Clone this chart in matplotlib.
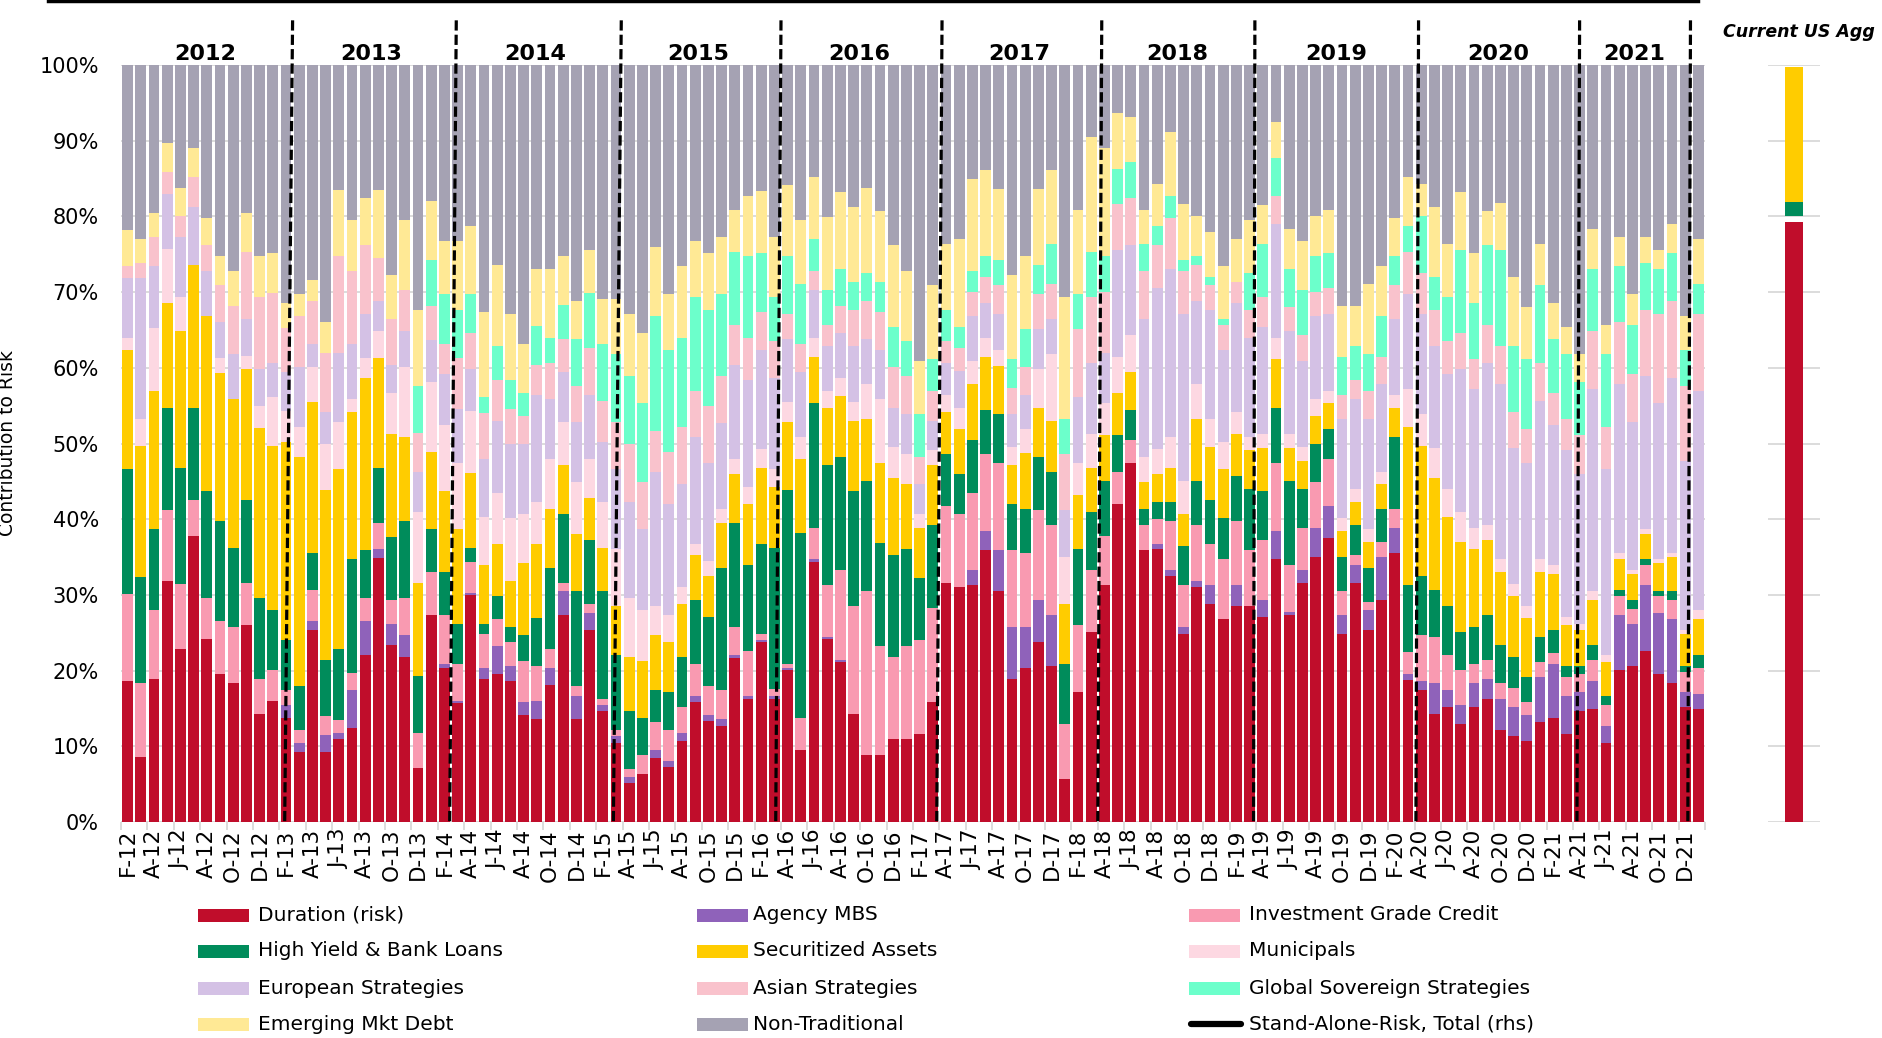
import numpy as np
import matplotlib
matplotlib.use("Agg")
import matplotlib.pyplot as plt
from matplotlib.lines import Line2D
from matplotlib.patches import Rectangle

# ---------------- data (cumulative upper boundary of each stacked series, % of risk) ----------------
duration_top = [18.6, 8.6, 18.9, 31.9, 22.9, 37.8, 24.2, 19.6, 18.4, 26.0,
                14.3, 16.0, 13.8, 9.3, 25.3, 9.3, 10.9, 12.4, 22.0, 34.9,
                23.4, 21.8, 7.1, 27.3, 20.3, 15.7, 30.0, 18.9, 19.6, 18.6,
                14.1, 13.6, 18.1, 27.3, 13.6, 25.4, 14.6, 10.4, 5.1, 6.3,
                8.4, 7.3, 10.7, 15.8, 13.3, 12.7, 21.6, 16.3, 23.8, 16.3,
                20.1, 9.5, 34.4, 24.2, 21.1, 14.3, 8.8, 8.8, 11.0, 11.0,
                11.6, 15.8, 31.6, 31.0, 31.3, 35.9, 30.5, 18.9, 20.4, 23.8,
                20.6, 5.7, 17.2, 25.1, 31.3, 42.0, 47.4, 35.9, 36.1, 32.5,
                24.9, 31.0, 28.8, 26.8, 28.5, 28.5, 27.1, 34.7, 27.4, 31.6,
                35.0, 37.5, 24.9, 31.6, 25.4, 29.3, 35.6, 18.7, 17.4, 14.3,
                15.2, 13.0, 15.2, 16.3, 12.1, 11.3, 10.7, 13.2, 13.8, 11.6,
                14.6, 14.9, 10.4, 20.1, 20.6, 22.6, 19.5, 18.3, 15.2, 14.9]
agency_top = [18.6, 8.6, 18.9, 31.9, 22.9, 37.8, 24.2, 19.6, 18.4, 26.0,
              14.3, 16.0, 15.5, 10.4, 26.5, 11.5, 11.7, 17.4, 26.5, 36.1,
              26.2, 24.7, 7.1, 27.3, 20.9, 16.0, 30.3, 20.3, 23.2, 20.6,
              15.8, 16.0, 20.3, 30.5, 16.6, 27.6, 15.5, 11.3, 5.9, 6.3,
              9.5, 8.1, 11.8, 16.6, 14.1, 13.6, 22.1, 16.6, 24.1, 16.6,
              20.3, 9.5, 34.7, 24.5, 21.4, 14.3, 8.8, 8.8, 11.0, 11.0,
              11.6, 15.8, 31.6, 31.0, 33.3, 38.4, 35.9, 25.7, 25.7, 29.3,
              27.4, 5.7, 17.2, 25.1, 31.3, 42.0, 47.4, 35.9, 36.7, 33.3,
              25.7, 31.9, 31.3, 26.8, 31.3, 28.5, 29.3, 38.4, 27.7, 33.3,
              38.9, 41.7, 27.4, 33.9, 28.0, 35.0, 38.9, 19.5, 18.6, 18.3,
              17.4, 15.5, 18.3, 18.9, 16.3, 15.2, 14.1, 19.2, 20.9, 16.6,
              17.2, 18.6, 12.7, 27.4, 26.2, 31.3, 27.6, 26.8, 17.2, 16.9]
ig_credit_top = [30.1, 18.4, 28.0, 41.2, 31.4, 42.6, 29.6, 26.5, 25.7, 31.6,
                 18.9, 20.1, 17.4, 12.2, 30.7, 14.0, 13.5, 19.7, 29.6, 39.5,
                 29.3, 29.6, 11.8, 33.0, 27.3, 20.9, 34.4, 24.9, 26.8, 23.8,
                 21.3, 20.6, 22.9, 31.6, 18.0, 28.8, 16.3, 12.2, 7.0, 8.8,
                 13.2, 12.2, 15.2, 20.9, 18.0, 17.4, 25.7, 22.6, 24.9, 17.6,
                 20.9, 13.8, 38.9, 31.3, 33.3, 28.5, 30.5, 23.2, 21.8, 23.2,
                 24.0, 28.3, 41.8, 40.7, 43.4, 48.6, 47.4, 35.9, 35.6, 41.2,
                 39.2, 13.0, 26.0, 33.3, 37.8, 46.3, 50.5, 39.2, 40.0, 39.8,
                 31.3, 39.2, 36.7, 34.7, 39.8, 35.9, 37.2, 47.4, 33.9, 38.9,
                 44.9, 48.0, 30.5, 35.3, 29.0, 37.0, 41.4, 22.4, 24.7, 24.5,
                 22.0, 20.1, 20.9, 21.4, 18.3, 17.7, 15.8, 21.2, 22.3, 19.2,
                 19.5, 21.4, 15.5, 29.9, 28.2, 33.9, 29.9, 29.3, 19.8, 20.3]
high_yield_top = [46.6, 32.4, 38.7, 54.7, 46.8, 54.7, 43.7, 39.8, 36.2, 42.6,
                  29.6, 28.0, 24.0, 18.0, 35.5, 21.4, 22.8, 34.7, 35.9, 46.8,
                  37.7, 39.8, 19.3, 38.7, 33.0, 26.2, 36.2, 26.2, 29.9, 25.7,
                  24.7, 27.0, 33.6, 40.7, 30.5, 37.2, 30.5, 22.0, 14.6, 13.8,
                  17.4, 17.2, 21.8, 29.3, 27.1, 33.6, 39.5, 33.9, 36.7, 36.2,
                  43.9, 38.2, 55.3, 47.1, 48.2, 43.7, 45.1, 36.9, 35.3, 36.1,
                  32.2, 39.2, 48.6, 46.0, 50.5, 54.4, 53.9, 42.0, 41.4, 48.2,
                  46.3, 20.9, 36.1, 40.9, 45.1, 51.1, 54.4, 41.4, 42.3, 42.3,
                  36.4, 45.1, 42.6, 40.1, 45.7, 44.0, 43.7, 54.7, 45.1, 44.0,
                  49.9, 51.9, 35.0, 39.2, 33.6, 41.4, 50.8, 31.3, 32.5, 30.7,
                  28.5, 25.1, 25.7, 27.4, 23.4, 21.8, 19.2, 24.5, 25.4, 20.6,
                  20.6, 23.4, 16.6, 30.7, 29.3, 34.7, 30.5, 30.5, 20.6, 22.0]
securitized_top = [62.4, 49.7, 57.0, 68.5, 64.8, 73.6, 66.8, 59.3, 55.9, 59.9,
                   52.0, 49.7, 50.2, 48.2, 55.5, 43.9, 46.6, 54.1, 58.6, 61.3,
                   51.3, 50.8, 31.6, 48.9, 43.7, 38.7, 46.1, 33.9, 36.7, 31.9,
                   34.2, 36.7, 41.4, 47.2, 38.0, 42.8, 36.2, 28.5, 21.8, 21.3,
                   24.7, 23.8, 28.8, 35.3, 32.5, 39.5, 46.0, 42.0, 46.8, 44.3,
                   52.8, 47.9, 61.4, 54.7, 56.3, 53.0, 53.3, 47.4, 45.5, 44.6,
                   38.9, 47.1, 54.1, 51.9, 57.8, 61.4, 60.3, 47.2, 48.8, 54.7,
                   53.0, 28.8, 43.2, 46.8, 51.1, 56.7, 59.5, 44.9, 46.0, 46.8,
                   40.7, 53.3, 49.6, 46.6, 51.3, 49.1, 49.4, 61.2, 49.4, 47.7,
                   53.6, 55.3, 38.4, 42.3, 37.0, 44.6, 54.7, 52.2, 49.7, 45.5,
                   40.3, 37.0, 36.1, 37.2, 33.0, 29.9, 27.0, 33.0, 32.8, 26.0,
                   25.4, 29.3, 21.2, 34.7, 32.8, 38.1, 34.2, 35.0, 24.9, 26.8]
municipals_top = [64.0, 53.3, 65.2, 75.7, 69.4, 73.6, 66.8, 61.3, 55.9, 61.5,
                  55.0, 56.1, 54.3, 52.2, 60.1, 49.9, 52.8, 55.9, 61.3, 64.9,
                  56.7, 60.1, 40.9, 58.1, 52.5, 47.4, 54.3, 40.3, 43.4, 40.1,
                  40.7, 42.3, 48.0, 52.8, 44.9, 48.0, 42.3, 36.1, 29.6, 28.0,
                  28.5, 27.4, 31.1, 36.7, 34.5, 41.4, 48.0, 44.3, 49.3, 46.6,
                  55.5, 50.8, 64.0, 57.0, 58.7, 55.5, 57.8, 55.9, 49.6, 48.6,
                  40.7, 49.1, 56.4, 54.7, 60.9, 64.0, 62.4, 49.6, 51.9, 59.8,
                  61.8, 35.0, 47.4, 51.3, 55.3, 61.4, 64.3, 48.2, 49.3, 50.8,
                  45.1, 57.8, 53.3, 50.2, 54.1, 50.8, 51.3, 64.0, 51.3, 49.6,
                  55.9, 57.0, 40.1, 44.0, 38.7, 46.3, 56.4, 57.2, 53.9, 49.4,
                  44.0, 40.9, 38.9, 39.2, 34.7, 31.4, 28.5, 34.7, 33.9, 27.1,
                  26.2, 30.5, 22.0, 35.6, 33.3, 38.7, 34.7, 35.6, 25.4, 28.0]
european_top = [71.9, 71.9, 73.4, 83.0, 77.3, 81.3, 72.8, 66.0, 61.8, 66.5,
                59.9, 60.7, 59.5, 60.1, 63.2, 54.1, 62.0, 63.2, 67.1, 68.8,
                60.4, 64.9, 46.3, 63.7, 59.2, 54.5, 59.9, 48.0, 53.0, 49.9,
                49.9, 56.4, 55.9, 59.5, 52.8, 56.4, 50.2, 46.6, 42.3, 38.7,
                46.3, 42.0, 44.6, 50.8, 47.4, 52.7, 60.4, 58.4, 62.4, 58.6,
                63.8, 59.5, 70.3, 62.9, 64.6, 62.9, 63.8, 62.4, 54.7, 53.9,
                44.6, 53.0, 60.6, 59.6, 66.8, 68.6, 67.1, 53.9, 56.4, 65.1,
                66.5, 41.2, 56.1, 60.6, 62.0, 75.6, 76.2, 66.5, 70.6, 73.1,
                67.1, 68.8, 67.6, 62.4, 68.5, 64.0, 65.4, 79.0, 64.9, 60.9,
                66.8, 67.1, 53.3, 55.9, 53.3, 57.8, 66.5, 69.7, 67.1, 62.9,
                59.2, 59.8, 57.2, 60.6, 57.8, 49.4, 47.4, 55.6, 52.5, 49.1,
                46.0, 57.2, 46.6, 57.8, 52.8, 58.9, 55.3, 58.7, 47.7, 56.9]
asian_top = [73.4, 73.9, 77.3, 85.8, 80.1, 85.2, 76.2, 70.9, 68.2, 75.3,
             69.3, 69.9, 65.2, 66.8, 68.8, 62.0, 74.8, 72.8, 76.2, 74.5,
             66.5, 70.3, 51.4, 68.2, 63.2, 61.3, 64.6, 54.0, 58.4, 54.5,
             53.6, 60.4, 60.7, 63.8, 57.6, 62.6, 55.6, 52.8, 49.9, 44.9,
             51.6, 48.9, 52.2, 57.0, 55.0, 58.9, 65.7, 64.0, 67.4, 63.5,
             67.1, 63.2, 72.8, 65.7, 68.2, 67.6, 68.8, 67.4, 60.1, 58.9,
             48.2, 57.0, 63.5, 62.6, 70.0, 72.0, 70.9, 57.3, 60.1, 69.7,
             71.1, 48.6, 65.1, 69.3, 70.0, 81.6, 82.4, 72.8, 76.2, 79.8,
             72.8, 73.6, 70.9, 65.7, 71.4, 67.6, 69.3, 82.7, 68.0, 64.3,
             70.0, 70.6, 56.4, 58.4, 57.0, 61.4, 70.9, 75.3, 72.5, 67.6,
             63.5, 64.6, 61.2, 65.7, 62.9, 54.1, 51.9, 60.7, 56.7, 53.3,
             51.1, 64.9, 52.2, 66.0, 59.2, 67.7, 67.1, 68.8, 57.6, 67.1]
global_sov_top = [73.4, 73.9, 77.3, 85.8, 80.1, 85.2, 76.2, 70.9, 68.2, 75.3,
                  69.3, 69.9, 65.2, 66.8, 68.8, 62.0, 74.8, 72.8, 76.2, 74.5,
                  66.5, 70.3, 57.6, 74.2, 69.7, 67.6, 69.7, 56.1, 62.9, 58.4,
                  56.7, 65.5, 64.0, 68.3, 63.8, 69.9, 63.2, 61.8, 58.9, 55.3,
                  66.8, 62.4, 64.0, 69.3, 67.7, 69.7, 75.3, 74.8, 75.1, 69.3,
                  74.8, 71.1, 77.0, 70.3, 73.1, 71.4, 72.5, 71.4, 65.4, 63.5,
                  53.9, 61.2, 67.7, 65.4, 72.8, 74.8, 74.2, 61.2, 65.1, 73.6,
                  76.4, 53.3, 69.7, 75.3, 74.8, 86.3, 87.2, 76.4, 78.7, 82.7,
                  74.2, 74.8, 72.0, 66.5, 71.4, 72.5, 76.4, 87.7, 73.1, 70.3,
                  74.8, 75.1, 61.4, 62.9, 61.8, 66.8, 74.8, 78.7, 80.1, 72.0,
                  69.3, 75.6, 68.5, 76.2, 75.6, 62.9, 61.2, 70.9, 63.8, 61.8,
                  58.1, 73.1, 61.8, 73.4, 65.7, 73.9, 73.1, 75.1, 62.4, 71.1]
em_debt_top = [78.2, 77.0, 80.4, 89.7, 83.8, 89.1, 79.8, 74.8, 72.8, 80.4,
               74.8, 75.1, 68.5, 69.7, 71.6, 66.0, 83.5, 79.5, 82.4, 83.5,
               72.2, 79.5, 67.6, 82.1, 76.8, 76.8, 78.7, 67.4, 73.6, 67.1,
               63.2, 73.1, 73.1, 74.8, 68.8, 75.6, 69.1, 69.1, 67.1, 64.6,
               75.9, 69.7, 73.4, 76.7, 75.1, 77.3, 80.9, 82.7, 83.3, 77.3,
               84.1, 79.5, 85.2, 79.9, 83.2, 81.3, 83.8, 80.7, 76.2, 72.8,
               60.9, 70.9, 76.4, 77.0, 84.9, 86.1, 83.6, 72.2, 74.8, 83.6,
               86.1, 69.3, 80.9, 90.5, 89.1, 93.6, 93.1, 80.9, 84.3, 91.1,
               81.6, 80.1, 77.9, 73.4, 77.0, 79.5, 81.5, 92.5, 78.4, 76.7,
               80.1, 80.9, 68.2, 68.2, 71.1, 73.4, 79.8, 85.2, 84.3, 81.3,
               76.4, 83.2, 75.1, 80.7, 81.8, 72.0, 68.0, 76.4, 68.5, 65.4,
               61.8, 78.4, 65.7, 77.3, 69.7, 77.3, 75.6, 79.0, 66.8, 77.0]
total_top = 100.0  # Non-Traditional fills the rest up to 100%

month_labels = ["F-12", "A-12", "J-12", "A-12", "O-12", "D-12",
                "F-13", "A-13", "J-13", "A-13", "O-13", "D-13",
                "F-14", "A-14", "J-14", "A-14", "O-14", "D-14",
                "F-15", "A-15", "J-15", "A-15", "O-15", "D-15",
                "F-16", "A-16", "J-16", "A-16", "O-16", "D-16",
                "F-17", "A-17", "J-17", "A-17", "O-17", "D-17",
                "F-18", "A-18", "J-18", "A-18", "O-18", "D-18",
                "F-19", "A-19", "J-19", "A-19", "O-19", "D-19",
                "F-20", "A-20", "J-20", "A-20", "O-20", "D-20",
                "F-21", "A-21", "J-21", "A-21", "O-21", "D-21"]
year_labels = ["2012", "2013", "2014", "2015", "2016", "2017", "2018", "2019", "2020", "2021"]

series_names = ["Duration (risk)", "Agency MBS", "Investment Grade Credit",
                "High Yield & Bank Loans", "Securitized Assets", "Municipals",
                "European Strategies", "Asian Strategies", "Global Sovereign Strategies",
                "Emerging Mkt Debt", "Non-Traditional"]

# Current US Agg bar
agg_names = ["Duration (risk)", "High Yield & Bank Loans", "Securitized Assets"]
agg_bottom = [0.0, 80.0, 81.9]
agg_top = [79.2, 81.9, 99.7]

# ---------------- styling ----------------
colors = ["#C00D2B", "#8F62BA", "#F99AB1", "#008C5B", "#FFCC00", "#FDD8E2",
          "#D4C1E5", "#F9C2CC", "#6CFFCB", "#FFE995", "#A5A2B3"]
color_of = dict(zip(series_names, colors))

W, H = 1883, 1038
plt.rcParams["font.family"] = ["DejaVu Sans"]
fig = plt.figure(figsize=(W / 100, H / 100), dpi=100)
fig.patch.set_facecolor("white")


def fx(px):
    return px / W


def fy(py):
    return 1 - py / H


ax = fig.add_axes([fx(121), fy(822), fx(1705) - fx(121), fy(65) - fy(822)])

tops = [duration_top, agency_top, ig_credit_top, high_yield_top, securitized_top,
        municipals_top, european_top, asian_top, global_sov_top, em_debt_top]
n = len(duration_top)
x = np.arange(n)
prev = np.zeros(n)
for name, top in zip(series_names[:-1], tops):
    top = np.asarray(top, dtype=float)
    ax.bar(x, top - prev, bottom=prev, width=0.83, color=color_of[name], linewidth=0, zorder=2)
    prev = top
ax.bar(x, total_top - prev, bottom=prev, width=0.83, color=color_of["Non-Traditional"],
       linewidth=0, zorder=2)

ax.set_xlim(-0.5, n - 0.5)
ax.set_ylim(0, 100)
ax.set_yticks(np.arange(0, 101, 10))
ax.set_yticklabels([f"{v}%" for v in range(0, 101, 10)], fontsize=15)
ax.yaxis.grid(True, color="#D9D9D9", linewidth=1.3, zorder=0)
ax.set_axisbelow(True)
for s in ax.spines.values():
    s.set_visible(False)
ax.tick_params(axis="y", length=0, pad=16)

ax.set_xticks(np.arange(0, n, 2))
ax.set_xticklabels(month_labels, rotation=90, fontsize=15.5)
ax.tick_params(axis="x", length=0, pad=5)
ax.set_xticks(np.arange(-0.5, n, 2), minor=True)
ax.tick_params(axis="x", which="minor", length=6, width=1.3, color="#D9D9D9")
ax.axhline(0, color="#D9D9D9", linewidth=1.3, zorder=1)

ax.set_ylabel("Contribution to Risk", fontsize=13.5)
ax.yaxis.set_label_coords(-0.0655, 0.5)

# year separators (slightly slanted dashed lines) and year labels
sep_top = [12.5, 24.9, 37.4, 49.5, 61.7, 73.8, 85.4, 97.8, 110.0, 118.4]
sep_bottom = [11.9, 24.4, 36.8, 49.1, 61.3, 73.5, 85.3, 97.6, 109.8, 118.2]
for xt, xb in zip(sep_top, sep_bottom):
    ax.plot([xt, xb], [105.9, 0], color="black", linewidth=2.3,
            linestyle=(0, (3.2, 1.3)), clip_on=False, zorder=6)
edges = [-0.5] + [(a + b) / 2 for a, b in zip(sep_top, sep_bottom)]
for i, yl in enumerate(year_labels):
    ax.text((edges[i] + edges[i + 1]) / 2, 101.4, yl, ha="center", va="center",
            fontsize=16, fontweight="bold", clip_on=False, zorder=7)

# top line (Stand-Alone-Risk total, off scale)
fig.add_artist(Line2D([fx(49), fx(1698)], [fy(1), fy(1)], color="black",
                      linewidth=3.2, transform=fig.transFigure))

# ---------------- Current US Agg panel ----------------
ax2 = fig.add_axes([fx(1768), fy(822), fx(1820) - fx(1768), fy(65) - fy(822)])
for name, b, t in zip(agg_names, agg_bottom, agg_top):
    ax2.bar([0], [t - b], bottom=[b], width=0.69, color=color_of[name], linewidth=0, zorder=2)
ax2.set_xlim(-1, 1)
ax2.set_ylim(0, 100)
ax2.set_yticks(np.arange(0, 101, 10))
ax2.yaxis.grid(True, color="#D9D9D9", linewidth=1.3, zorder=0)
ax2.set_axisbelow(True)
ax2.set_xticks([])
ax2.tick_params(axis="y", length=0, labelleft=False)
for s in ax2.spines.values():
    s.set_visible(False)
fig.text(fx(1723), fy(32), "Current US Agg", fontsize=12.5, fontweight="bold",
         fontstyle="italic", ha="left", va="center")

# ---------------- legend (3 columns x 4 rows) ----------------
row_y = [915, 951, 988, 1024]
col_patch_x = [198, 697, 1189]
col_text_x = [258, 753, 1249]
legend_entries = series_names + ["Stand-Alone-Risk, Total (rhs)"]
for k, label in enumerate(legend_entries):
    r, c = divmod(k, 3)
    yc = row_y[r]
    if label in color_of:
        fig.add_artist(Rectangle((fx(col_patch_x[c]), fy(yc + 6.5)), 51 / W, 13 / H,
                                 facecolor=color_of[label], edgecolor="none",
                                 transform=fig.transFigure))
    else:
        fig.add_artist(Line2D([fx(col_patch_x[c] + 2), fx(col_patch_x[c] + 52)], [fy(yc), fy(yc)],
                              color="black", linewidth=4.5, solid_capstyle="round",
                              transform=fig.transFigure))
    fig.text(fx(col_text_x[c]), fy(yc), label, fontsize=14.5, ha="left", va="center")

fig.savefig("out.png", dpi=100, facecolor="white")
